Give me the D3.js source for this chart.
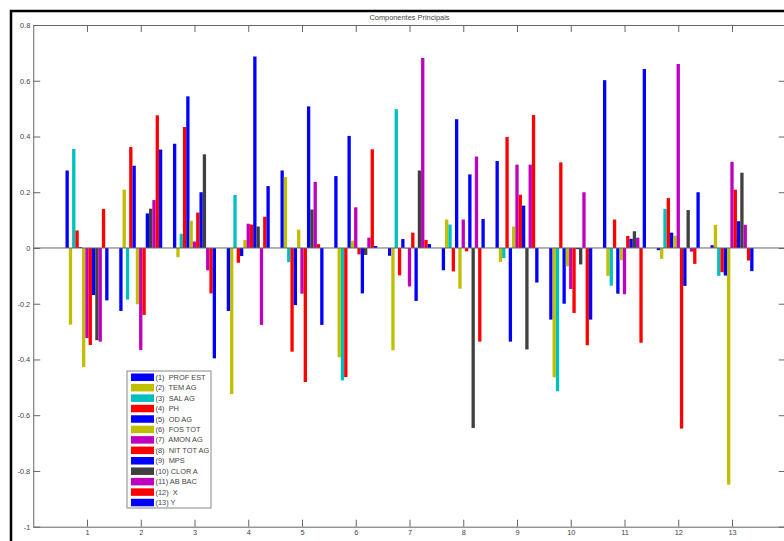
<!DOCTYPE html>
<html>
<head>
<meta charset="utf-8">
<script src="https://cdn.jsdelivr.net/npm/d3@7"></script>
<style>
  body { margin: 0; background: #fff; }
  svg { display: block; font-family: "Liberation Sans", Arial, sans-serif; }
  text { white-space: pre; }
</style>
</head>
<body>
<script>
// groups on the x axis
const groups = [1, 2, 3, 4, 5, 6, 7, 8, 9, 10, 11, 12, 13];

// one array per variable (value of that variable in each component)
const profEst  = [0.278, -0.226, 0.374, -0.226, 0.278, 0.258, -0.028, -0.080, 0.312, -0.257, 0.602, -0.008, 0.010];
const temAg    = [-0.275, 0.209, -0.033, -0.524, 0.255, -0.392, -0.367, 0.102, -0.050, -0.464, -0.100, -0.039, 0.083];
const salAg    = [0.355, -0.185, 0.051, 0.190, -0.051, -0.475, 0.498, 0.084, -0.036, -0.514, -0.135, 0.140, -0.100];
const ph       = [0.063, 0.362, 0.434, -0.053, -0.372, -0.463, -0.098, -0.084, 0.398, 0.307, 0.102, 0.179, -0.087];
const odAg     = [0.003, 0.295, 0.544, -0.029, -0.205, 0.402, 0.032, 0.462, -0.336, -0.200, -0.164, 0.055, -0.099];
const fosTot   = [-0.427, -0.202, 0.097, 0.029, 0.066, 0.026, -0.003, -0.146, 0.077, -0.066, -0.044, 0.044, -0.849];
const amonAg   = [-0.323, -0.366, 0.023, 0.087, -0.164, 0.146, -0.138, 0.102, 0.299, -0.147, -0.166, 0.660, 0.309];
const nitTotAg = [-0.348, -0.240, 0.127, 0.084, -0.481, -0.023, 0.055, -0.012, 0.191, -0.233, 0.043, -0.648, 0.209];
const mps      = [-0.169, 0.124, 0.200, 0.687, 0.508, -0.163, -0.190, 0.264, 0.152, -0.004, 0.033, -0.136, 0.096];
const clorA    = [-0.331, 0.141, 0.336, 0.077, 0.138, -0.025, 0.278, -0.646, -0.364, -0.059, 0.060, 0.136, 0.270];
const abBac    = [-0.336, 0.172, -0.080, -0.276, 0.237, 0.037, 0.682, 0.328, 0.299, 0.200, 0.037, -0.013, 0.083];
const xVar     = [0.140, 0.476, -0.163, 0.112, 0.014, 0.354, 0.029, -0.336, 0.477, -0.349, -0.340, -0.057, -0.045];
const yVar     = [-0.188, 0.353, -0.396, 0.222, -0.276, 0.007, 0.014, 0.104, -0.124, -0.257, 0.642, 0.200, -0.083];

const seriesNames = ["(1)  PROF EST", "(2)  TEM AG", "(3)  SAL AG", "(4)  PH", "(5)  OD AG",
  "(6)  FOS TOT", "(7)  AMON AG", "(8)  NIT TOT AG", "(9)  MPS", "(10) CLOR A",
  "(11) AB BAC", "(12)  X", "(13) Y"];
const seriesValues = [profEst, temAg, salAg, ph, odAg, fosTot, amonAg, nitTotAg, mps, clorA, abBac, xVar, yVar];
const colors = ["#0000ff", "#bfbf00", "#00bfbf", "#ff0000", "#0000ff", "#bfbf00", "#bf00bf",
  "#ff0000", "#0000ff", "#404040", "#bf00bf", "#ff0000", "#0000ff"];

const yTicks = [-1, -0.8, -0.6, -0.4, -0.2, 0, 0.2, 0.4, 0.6, 0.8];
const yTickLabels = ["-1", "-0.8", "-0.6", "-0.4", "-0.2", "0", "0.2", "0.4", "0.6", "0.8"];

const w = 784;
const h = 541;
const axisColor = "#666";
const textColor = "#444";
const fontSize = 7.4;

const svg = d3.select("body")
  .append("svg")
  .attr("width", w)
  .attr("height", h);

const x = d3.scaleLinear().domain([0, 14]).range([33.25, 785.75]);
const y = d3.scaleLinear().domain([-1, 0.8]).range([526.7, 25]);
// position of each series inside a group (in x units)
const inner = d3.scaleBand().domain(d3.range(13)).range([-0.4, 0.4]);
const barW = x(inner.bandwidth()) - x(0);

// figure frame
svg.append("path")
  .attr("d", "M11,541 L11,11 L784,11")
  .attr("fill", "none")
  .attr("stroke", "#000")
  .attr("stroke-width", 2.5);

// bars
const bars = [];
seriesValues.forEach((vals, s) => {
  vals.forEach((v, g) => bars.push({ s: s, g: groups[g], v: v }));
});

svg.append("g")
  .selectAll("rect")
  .data(bars)
  .enter()
  .append("rect")
  .attr("x", d => x(d.g + inner(d.s)))
  .attr("width", barW)
  .attr("y", d => y(Math.max(0, d.v)))
  .attr("height", d => Math.abs(y(d.v) - y(0)))
  .attr("fill", d => colors[d.s]);

// baseline
svg.append("line")
  .attr("x1", x(0)).attr("x2", x(14))
  .attr("y1", y(0)).attr("y2", y(0))
  .attr("stroke", axisColor)
  .attr("stroke-width", 1);

// axes
function styleAxis(g) {
  g.selectAll("path, line").attr("stroke", axisColor);
  g.selectAll("text").attr("fill", textColor).attr("font-size", fontSize)
    .attr("font-family", "Liberation Sans, Arial, sans-serif");
}

svg.append("g")
  .attr("transform", `translate(${x(0)},0)`)
  .call(d3.axisLeft(y).tickValues(yTicks).tickFormat((d, i) => yTickLabels[i])
    .tickSize(-7).tickSizeOuter(0).tickPadding(3))
  .call(styleAxis);

svg.append("g")
  .attr("transform", `translate(${x(14)},0)`)
  .call(d3.axisRight(y).tickValues(yTicks).tickFormat("").tickSize(-7).tickSizeOuter(0))
  .call(styleAxis);

svg.append("g")
  .attr("transform", `translate(0,${y(-1)})`)
  .call(d3.axisBottom(x).tickValues(groups).tickFormat(d3.format("d"))
    .tickSize(-7).tickSizeOuter(0).tickPadding(3.5))
  .call(styleAxis);

svg.append("g")
  .attr("transform", `translate(0,${y(0.8)})`)
  .call(d3.axisTop(x).tickValues(groups).tickFormat("").tickSize(-7).tickSizeOuter(0))
  .call(styleAxis);

// title
svg.append("text")
  .attr("x", (x(0) + x(14)) / 2)
  .attr("y", 20)
  .attr("text-anchor", "middle")
  .attr("font-size", fontSize)
  .attr("fill", textColor)
  .text("Componentes Principais");

// legend
const legend = svg.append("g").attr("transform", "translate(127,371)");
legend.append("rect")
  .attr("width", 84)
  .attr("height", 137)
  .attr("fill", "#fff")
  .attr("stroke", "#888");

const rows = legend.selectAll("g.row")
  .data(seriesNames)
  .enter()
  .append("g")
  .attr("class", "row")
  .attr("transform", (d, i) => `translate(0,${6 + i * 10.44})`);

rows.append("rect")
  .attr("x", 4)
  .attr("y", -3.5)
  .attr("width", 23)
  .attr("height", 7.5)
  .attr("fill", (d, i) => colors[i]);

rows.append("text")
  .attr("x", 28.5)
  .attr("y", 2.8)
  .attr("font-size", fontSize)
  .attr("fill", textColor)
  .text(d => d);
</script>
</body>
</html>
